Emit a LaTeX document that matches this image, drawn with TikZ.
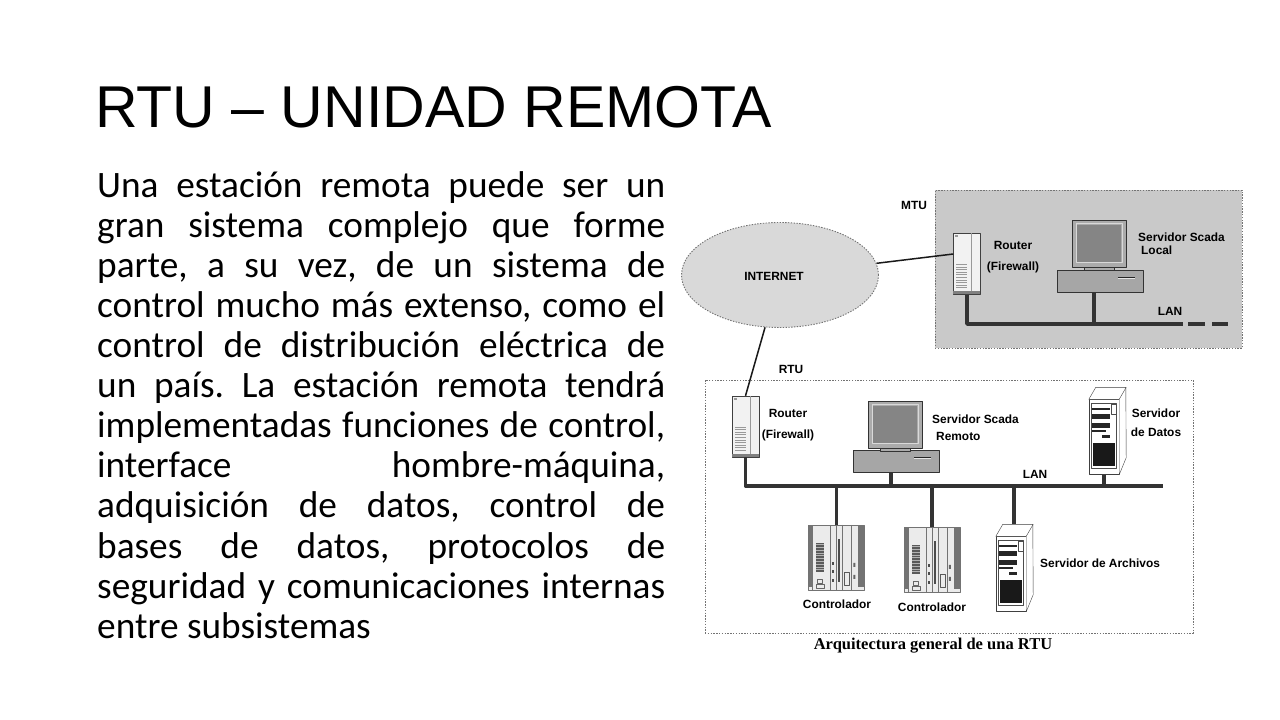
\documentclass[tikz,border=0pt]{standalone}
\usepackage{fontspec}
\setmainfont{Carlito}
\setsansfont{Liberation Sans}
\newfontfamily\titlefont{Liberation Sans}
\newfontfamily\capfont{Liberation Serif}
\usetikzlibrary{shapes.geometric,calc}
\frenchspacing

\tikzset{
  zone/.style={draw=black!55, line width=0.9pt, dash pattern=on 1.4pt off 1.4pt, inner sep=0pt},
  netcloud/.style={ellipse, zone, fill=black!15, minimum width=197pt, minimum height=105pt},
  lbl/.style={font=\sffamily\bfseries\fontsize{11.9}{#1}\selectfont, inner sep=0pt},
  lbl/.default=14,
  link/.style={draw=black!90, line width=1.5pt},
  lan/.style={draw=black!80, line width=3.6pt},
  router/.style={draw=black!75, fill=black!5, minimum width=27pt, minimum height=61pt, inner sep=0pt},
  monitor/.style={draw=black!80, fill=black!33, minimum width=54pt, minimum height=47pt, inner sep=0pt},
  pcbase/.style={draw=black!80, fill=black!35, minimum width=86pt, minimum height=22pt, inner sep=0pt},
  tower/.style={draw=black!75, fill=white, minimum width=30pt, minimum height=75pt, inner sep=0pt},
  plc/.style={draw=black!55, fill=black!8, minimum width=56pt, minimum height=65pt, inner sep=0pt},
}

\begin{document}
\begin{tikzpicture}[x=1pt, y=-1pt, line join=round]
\useasboundingbox (0,0) rectangle (1280,720);
\fill[white] (0,0) rectangle (1280,720);

% titulo y texto
\node[anchor=base west, inner sep=0pt, font=\titlefont\fontsize{59}{60}\selectfont] (title) at (95,127) {RTU – UNIDAD REMOTA};
\foreach \ln [count=\i] in {{Una estación remota puede ser un},{gran sistema complejo que forme},
  {parte, a su vez, de un sistema de},{control mucho más extenso, como el},
  {control de distribución eléctrica de},{un país. La estación remota tendrá},
  {implementadas funciones de control,},{interface hombre-máquina,},
  {adquisición de datos, control de},{bases de datos, protocolos de},
  {seguridad y comunicaciones internas}}
  \node[anchor=base west, inner sep=0pt, font=\fontsize{37.3}{40}\selectfont] (line\i) at (97,{157+40.1*\i}) {\makebox[568pt][s]{\ln}};
\node[anchor=base west, inner sep=0pt, font=\fontsize{37.3}{40}\selectfont] (line12) at (97,638.2) {entre subsistemas};

% zonas
\node[zone, fill=black!21, minimum width=307pt, minimum height=158pt] (mtu) at (1088.5,269) {};
\node[zone, fill=white, minimum width=488pt, minimum height=253pt] (rtu) at (949,506.5) {};
\node[netcloud] (inet) at (780,275) {};

% equipos
\node[router] (rtrM) at (967,264) {};
\node[monitor] (monM) at (1099.5,243.5) {};
\node[pcbase] (baseM) at (1100,281) {};
\node[router] (rtrR) at (745.5,426.5) {};
\node[monitor] (monR) at (895.5,424.5) {};
\node[pcbase] (baseR) at (896,461) {};
\node[tower] (datos) at (1104,437) {};
\node[tower] (archivos) at (1011,574) {};
\node[plc] (ctl1) at (836.5,557.5) {};
\node[plc] (ctl2) at (932,559.5) {};

% enlaces
\draw[link] (inet) -- ([yshift=10pt]rtrM.west);
\draw[link] (inet) -- (rtrR.north);

% LAN
\coordinate (lanMend) at (1183,324);
\coordinate (lanMdash) at (1188,324);
\coordinate (lanMfin) at (1228,324);
\coordinate (dropM) at ([xshift=-6pt]baseM.south);
\draw[lan] (rtrM.south) |- (lanMend);
\draw[lan, dash pattern=on 17pt off 7pt] (lanMdash) -- (lanMfin);
\draw[lan] (dropM) -- (dropM |- lanMend);
\coordinate (lanRend) at (1163,486);
\coordinate (dropR) at ([xshift=-5pt]baseR.south);
\coordinate (archTop) at ([xshift=3pt,yshift=12pt]archivos.north);
\draw[lan] (rtrR.south) |- (lanRend);
\draw[lan] (dropR) -- (dropR |- lanRend);
\draw[lan] (datos.south) -- (datos.south |- lanRend);
\foreach \d in {ctl1.north,ctl2.north,archTop} \draw[lan] (\d |- lanRend) -- (\d);

% detalles
\foreach \r in {rtrM,rtrR}{
  \begin{scope}[shift={(\r.north west)}]
    \draw[black!40] (18,0) -- (18,58);
    \fill[black!50] (0,58) rectangle (27,61);
    \foreach \k in {0,...,9} \draw[black!40, line width=0.5pt] (3,{31+2.6*\k}) -- (14,{31+2.6*\k});
    \fill[black!40] (2,2) rectangle (5,4);
  \end{scope}
}
\foreach \m in {monM,monR}{
  \begin{scope}[shift={(\m.north west)}]
    \draw[black!15, line width=1pt] (4,4) rectangle (50,43);
    \fill[black!48] (5,5) rectangle (49,42);
    \draw[black!80, fill=black!33] (12,47) rectangle (42,50);
  \end{scope}
}
\foreach \b in {baseM,baseR}{
  \begin{scope}[shift={(\b.north west)}]
    \draw[black!85, line width=0.8pt] (61,8) -- (78,8);
    \draw[black!10, line width=0.8pt] (61,9) -- (78,9);
  \end{scope}
}
\foreach \t in {datos,archivos}{
  \draw[black!75, fill=white] (\t.north west) -- ++(7,-12) -- ++(30,0) -- ($(\t.south east)+(7,-17)$) -- (\t.south east) -- (\t.north east) -- cycle;
  \draw[black!75] (\t.north east) -- ++(7,-12);
  \begin{scope}[shift={(\t.north west)}]
    \draw[black!70] (2.5,3.5) rectangle (27.5,69);
    \fill[black!85] (3,9) rectangle (21,11);
    \fill[black!85] (3,15) rectangle (21,20);
    \fill[black!85] (3,24) rectangle (21,29);
    \fill[black!85] (3,31) rectangle (17,33);
    \fill[black!85] (13,36) rectangle (21,39);
    \fill[black!90] (4,44) rectangle (26,67);
    \draw[black!70, fill=white] (22,5) rectangle (27,15);
  \end{scope}
}
\foreach \c in {ctl1,ctl2}{
  \begin{scope}[shift={(\c.north west)}]
    \fill[black!55] (0,1) rectangle (4,62);
    \fill[black!55] (50,1) rectangle (56,62);
    \draw[black!55] (4,0) rectangle (22,65);
    \fill[black!65] (8,18) rectangle (16,47);
    \foreach \k in {0,...,9} \draw[black!30] (8,{19.5+2.8*\k}) -- (16,{19.5+2.8*\k});
    \draw[black!55] (28,0) -- (28,65) (34,0) -- (34,65) (43,0) -- (43,65);
    \fill[black!70] (30,14) rectangle (32,57);
    \foreach \y in {37,45,54} \fill[black!70] (24,\y) rectangle (26,{\y+3});
    \draw[black!65] (36,47) rectangle (41,60);
    \draw[black!60] (9,54) rectangle (14,58) (8,59) rectangle (16,63);
    \fill[black!60] (45,38) rectangle (47,42) (45,50) rectangle (47,54);
  \end{scope}
}

% etiquetas
\node[lbl] (lblInet) at (774,276) {INTERNET};
\node[lbl, anchor=base] (lblMtu) at (914,209.5) {MTU};
\node[lbl, anchor=base] (lblRtu) at (791,373.5) {RTU};
\node[lbl=21, align=center] (lblRtrM) at (1013,257.5) {Router\\(Firewall)};
\node[lbl=13.5, align=left, anchor=west] (lblSrvM) at (1138,243.5) {Servidor Scada\\\hspace*{3pt}Local};
\node[lbl, anchor=base] (lblLanM) at (1170,315) {LAN};
\node[lbl=21, align=center] (lblRtrR) at (788,425.5) {Router\\(Firewall)};
\node[lbl=17, align=left, anchor=west] (lblSrvR) at (932,427.3) {Servidor Scada\\\hspace*{4pt}Remoto};
\node[lbl, anchor=base] (lblLanR) at (1035,478.5) {LAN};
\node[lbl=19, align=center] (lblDatos) at (1156,422.3) {Servidor\\de Datos};
\node[lbl, anchor=base west] (lblArch) at (1040,567) {Servidor de Archivos};
\node[lbl, anchor=base] (lblCtl1) at (837,608.5) {Controlador};
\node[lbl, anchor=base] (lblCtl2) at (932,611.5) {Controlador};
\node[anchor=base, inner sep=0pt, font=\capfont\bfseries\fontsize{16.5}{18}\selectfont] (caption) at (933,649) {Arquitectura general de una RTU};
\end{tikzpicture}
\end{document}
